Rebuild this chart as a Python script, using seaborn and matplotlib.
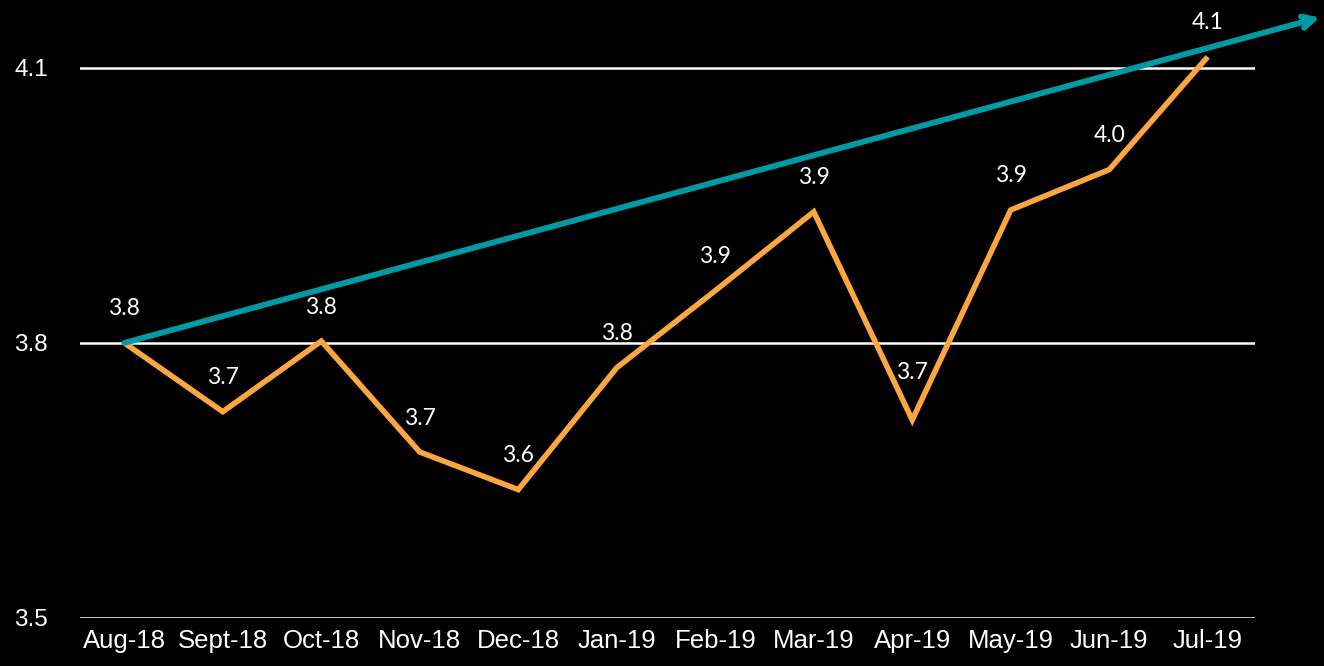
import matplotlib
matplotlib.use("Agg")
import matplotlib.pyplot as plt
import seaborn as sns
import pandas as pd
import numpy as np

months = ["Aug-18", "Sept-18", "Oct-18", "Nov-18", "Dec-18", "Jan-19",
          "Feb-19", "Mar-19", "Apr-19", "May-19", "Jun-19", "Jul-19"]
values = [3.80, 3.725, 3.802, 3.681, 3.640, 3.773,
          3.857, 3.943, 3.716, 3.945, 3.989, 4.112]
labels = ["3.8", "3.7", "3.8", "3.7", "3.6", "3.8",
          "3.9", "3.9", "3.7", "3.9", "4.0", "4.1"]
y_ticks = [3.5, 3.8, 4.1]
trend_x = [0, 12.14]
trend_y = [3.80, 4.155]

ORANGE = "#FBA73F"
TEAL = "#009AA4"

sns.set_theme(style="dark")
plt.rcParams["font.family"] = ["Liberation Sans", "DejaVu Sans"]

fig = plt.figure(figsize=(13.24, 6.66), dpi=100, facecolor="black")
ax = fig.add_axes([80/1324, 1-618/666, (1255-80)/1324, (618-22)/666])
ax.set_facecolor("black")

df = pd.DataFrame({"pos": np.arange(len(months)), "value": values})

for yv in y_ticks:
    ax.axhline(yv, color="white", lw=1.8, zorder=1)

sns.lineplot(data=df, x="pos", y="value", ax=ax, color=ORANGE, lw=4,
             zorder=3, solid_capstyle="butt", solid_joinstyle="miter")

ax.annotate("", xy=(trend_x[1], trend_y[1]), xytext=(trend_x[0], trend_y[0]),
            xycoords="data", textcoords="data", annotation_clip=False,
            arrowprops=dict(arrowstyle="->,head_length=0.7,head_width=0.35",
                            color=TEAL, lw=4.2, shrinkA=0, shrinkB=0),
            zorder=4)

for i, (v, lab) in enumerate(zip(values, labels)):
    off = 34 if months[i] == "Apr-19" else 24.5
    ax.annotate(lab, xy=(i, v), xytext=(0, off), textcoords="offset points",
                ha="center", va="center", color="white", fontsize=16.5,
                family=["Lato", "DejaVu Sans"], fontweight="normal",
                annotation_clip=False, zorder=5)

ax.set_xlim(-0.45, 11.48)
ax.set_ylim(3.5, 4.15)
ax.set_xticks(np.arange(len(months)))
ax.set_xticklabels(months)
ax.set_yticks(y_ticks)
ax.set_yticklabels([f"{t:.1f}" for t in y_ticks])
ax.tick_params(axis="x", colors="white", labelsize=18.5, length=0, pad=8)
ax.tick_params(axis="y", colors="white", labelsize=17.5, length=0, pad=23)
ax.set_xlabel("")
ax.set_ylabel("")
ax.grid(False)
for s in ax.spines.values():
    s.set_visible(False)

fig.savefig("out.png", dpi=100, facecolor="black")
